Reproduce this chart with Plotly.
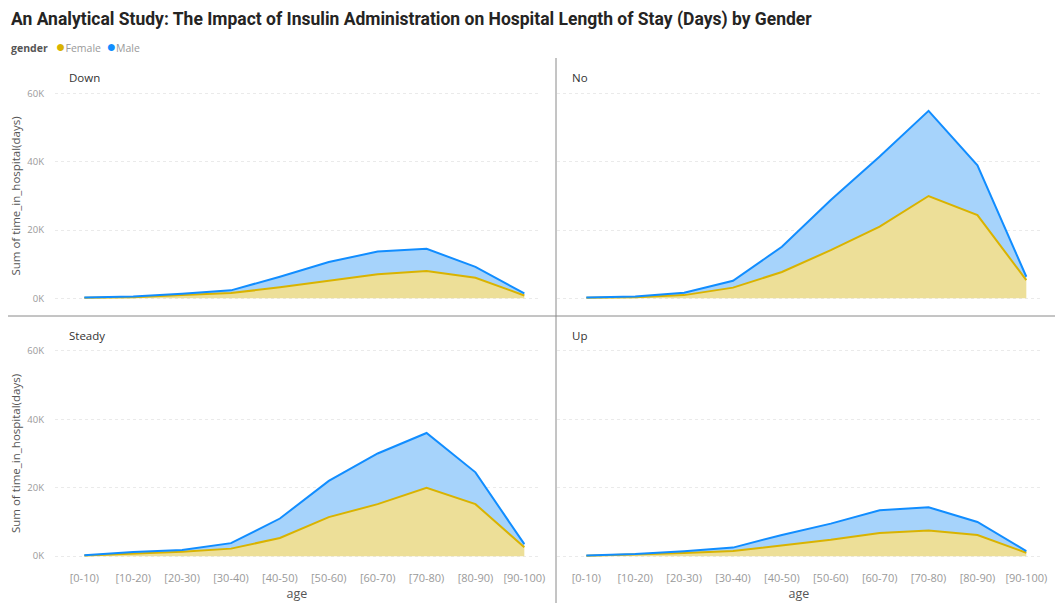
import plotly.graph_objects as go

# the page body adds an 8px margin, so the figure is drawn 8px in
OFF = 8
W, H = 1063 - OFF, 603 - OFF

ages = ['[0-10)', '[10-20)', '[20-30)', '[30-40)', '[40-50)',
        '[50-60)', '[60-70)', '[70-80)', '[80-90)', '[90-100)']
groups = ['Down', 'No', 'Steady', 'Up']

# Sum of time_in_hospital (days) per age band, per insulin group
female_down = [100, 300, 900, 1500, 3200, 5000, 7000, 8000, 6000, 800]
male_down = [100, 200, 400, 800, 3100, 5600, 6700, 6500, 3200, 600]

female_no = [100, 300, 900, 3100, 7700, 14100, 21000, 30000, 24400, 5300]
male_no = [100, 200, 700, 2000, 7400, 14700, 20600, 25000, 14600, 1000]

female_steady = [200, 800, 1300, 2200, 5300, 11400, 15200, 20000, 15200, 2600]
male_steady = [100, 400, 500, 1600, 5700, 10600, 14800, 16000, 9300, 900]

female_up = [100, 400, 900, 1500, 3200, 4800, 6800, 7500, 6200, 1000]
male_up = [100, 200, 500, 1000, 3000, 4700, 6600, 6800, 3800, 500]

yticks = [0, 20000, 40000, 60000]
yticklabels = ['0K', '20K', '40K', '60K']

female_data = [female_down, female_no, female_steady, female_up]
male_data = [male_down, male_no, male_steady, male_up]

F_LINE, F_FILL = '#D9B300', '#EDDF98'
M_LINE, M_FILL = '#118DFF', '#A6D3FB'


def px_x(p):
    return max(p - OFF, 0) / W


def px_y(p):
    return 1 - max(p - OFF, 0) / H


# plot areas in (window) pixels
x_doms = [(px_x(55), px_x(539)), (px_x(557), px_x(1041))]
y_doms = [(px_y(305), px_y(87)), (px_y(563), px_y(344))]

fig = go.Figure()

for i, g in enumerate(groups):
    row, col = divmod(i, 2)
    n = '' if i == 0 else str(i + 1)
    xa, ya = 'x' + n, 'y' + n
    fig.add_trace(go.Scatter(
        x=ages, y=female_data[i], name='Female', stackgroup='s' + g,
        mode='lines', line=dict(color=F_LINE, width=2), fillcolor=F_FILL,
        xaxis=xa, yaxis=ya, showlegend=False))
    fig.add_trace(go.Scatter(
        x=ages, y=male_data[i], name='Male', stackgroup='s' + g,
        mode='lines', line=dict(color=M_LINE, width=2), fillcolor=M_FILL,
        xaxis=xa, yaxis=ya, showlegend=False))

    fig.layout['xaxis' + n] = dict(
        domain=x_doms[col], anchor=ya, type='category',
        categoryorder='array', categoryarray=ages, automargin=False,
        range=[-0.6, 9.3], showgrid=False, zeroline=False, showline=False,
        showticklabels=(row == 1), ticks='', ticklabelstandoff=7,
        tickfont=dict(size=11, color='#9a9a9a', family='Open Sans'),
        title=dict(text='age' if row == 1 else '', standoff=3,
                   font=dict(size=12.5, color='#555555', family='Open Sans')))
    fig.layout['yaxis' + n] = dict(
        domain=y_doms[row], anchor=xa, range=[-2000, 62000], automargin=False,
        tickvals=yticks, ticktext=yticklabels,
        showticklabels=(col == 0), ticks='', ticklabelstandoff=10,
        showgrid=True, gridcolor='#EAEAEA', griddash='dot', gridwidth=1,
        zeroline=False, showline=False,
        tickfont=dict(size=9.5, color='#9a9a9a', family='Open Sans'),
        title=dict(text='Sum of time_in_hospital(days)' if col == 0 else '',
                   standoff=4,
                   font=dict(size=11.5, color='#555555', family='Open Sans')))

# panel titles
title_pos = [(67, 77), (570, 77), (67, 335), (570, 335)]
for g, (x, y) in zip(groups, title_pos):
    fig.add_annotation(text=g, x=px_x(x), y=px_y(y), xref='paper', yref='paper',
                       xanchor='left', yanchor='middle', showarrow=False,
                       font=dict(size=11.5, color='#333333', family='Open Sans'))

fig.add_annotation(
    text='<b>An Analytical Study: The Impact of Insulin Administration on Hospital Length of Stay (Days) by Gender</b>',
    x=px_x(9), y=px_y(19), xref='paper', yref='paper', xanchor='left',
    yanchor='middle', showarrow=False,
    font=dict(size=17.5, color='#252423', family='Roboto'))

# legend: gender  ● Female  ● Male
fig.add_annotation(
    text=("<b>gender</b>   "
          f"<span style='color:{F_LINE};font-size:16px'>●</span><span style='color:#9a9a9a'>Female</span>  "
          f"<span style='color:{M_LINE};font-size:16px'>●</span><span style='color:#9a9a9a'>Male</span>"),
    x=px_x(9), y=px_y(46), xref='paper', yref='paper', xanchor='left',
    yanchor='middle', showarrow=False,
    font=dict(size=10.5, color='#555555', family='Open Sans'))

# separators between panels
fig.add_shape(type='line', xref='paper', yref='paper',
              x0=px_x(556), x1=px_x(556), y0=px_y(58), y1=0,
              line=dict(color='#8a8a8a', width=1))
fig.add_shape(type='line', xref='paper', yref='paper',
              x0=px_x(4), x1=1, y0=px_y(316), y1=px_y(316),
              line=dict(color='#8a8a8a', width=1))

fig.update_layout(
    width=W, height=H,
    margin=dict(l=0, r=0, t=0, b=0),
    paper_bgcolor='white', plot_bgcolor='white',
    font=dict(family='Open Sans'),
    showlegend=False,
)

fig.write_html('out.html')
